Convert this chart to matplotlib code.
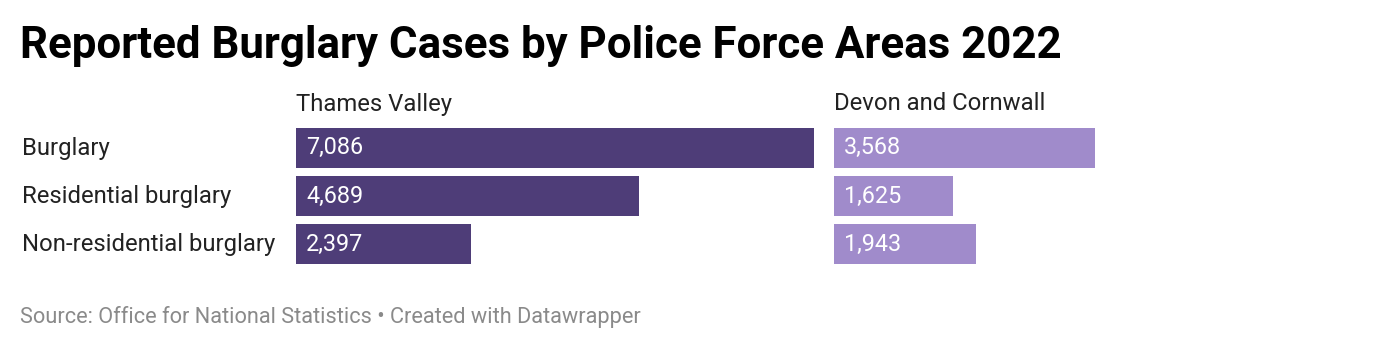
import matplotlib
matplotlib.use("Agg")
import matplotlib.pyplot as plt

plt.rcParams['font.family'] = ['Roboto', 'DejaVu Sans']

categories = ["Burglary", "Residential burglary", "Non-residential burglary"]
areas = ["Thames Valley", "Devon and Cornwall"]
thames_values = [7086, 4689, 2397]
devon_values = [3568, 1625, 1943]
title = "Reported Burglary Cases by Police Force Areas 2022"
footer = "Source: Office for National Statistics \u2022 Created with Datawrapper"

colors = ["#4e3d78", "#a08bcb"]

W, H = 1384, 350
fig = plt.figure(figsize=(W / 100, H / 100), dpi=100)

def px_axes(x0, y_top, w, h):
    return fig.add_axes([x0 / W, 1 - (y_top + h) / H, w / W, h / H])

bar_h = 0.823
xmax = max(thames_values + devon_values)
panel_x = [296, 834]
panel_w = 518
for i, (vals, name) in enumerate(zip([thames_values, devon_values], areas)):
    ax = px_axes(panel_x[i], 128, panel_w, 136)
    ypos = list(range(len(categories)))
    ax.barh(ypos, vals, height=bar_h, color=colors[i], linewidth=0)
    ax.set_xlim(0, xmax)
    ax.set_ylim(len(categories) - 1 + bar_h / 2, -bar_h / 2)
    ax.axis("off")
    for y, v in zip(ypos, vals):
        ax.text(xmax * 10 / panel_w, y, f"{v:,}", color="white", fontsize=16.8,
                va="center", ha="left")
    fig.text(panel_x[i] / W, 1 - 104 / H, name, fontsize=17.2, color="#222222",
             va="center", ha="left")

for j, cat in enumerate(categories):
    yc = 128 + bar_h * 48 / 2 + j * 48
    fig.text(22 / W, 1 - (yc + 1) / H, cat, fontsize=17.2, color="#222222",
             va="center", ha="left")

fig.text(20 / W, 1 - 46 / H, title, fontsize=31.6, fontweight="bold",
         color="#000000", va="center", ha="left")
fig.text(20 / W, 1 - 317 / H, footer, fontsize=15.7, color="#8a8a8a",
         va="center", ha="left")

fig.savefig("out.png", dpi=100, facecolor="white")
